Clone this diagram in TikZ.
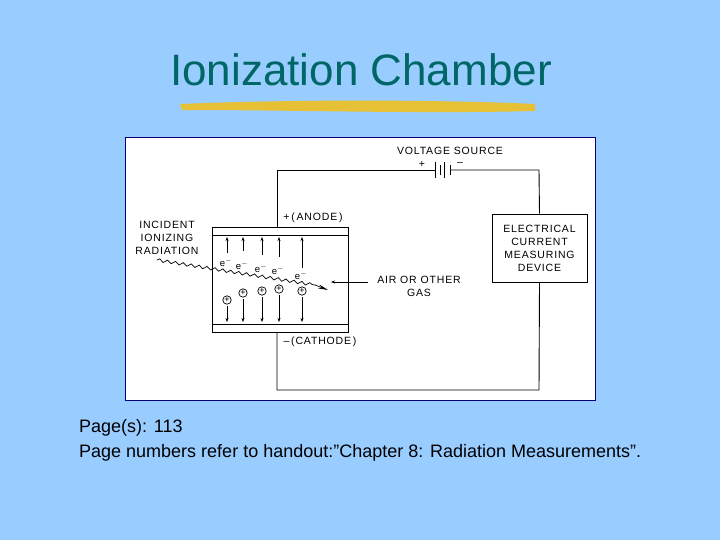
\documentclass[tikz,border=0pt]{standalone}
\usepackage{fontspec}
\setmainfont{Liberation Sans}
\usetikzlibrary{decorations.pathmorphing,arrows.meta}
\definecolor{bg}{HTML}{99CCFF}
\definecolor{teal}{HTML}{006666}
\definecolor{brush}{HTML}{F0C020}
\begin{document}
\begin{tikzpicture}[x=1pt,y=-1pt,
  lbl/.style={font=\fontsize{10.5}{13}\selectfont\addfontfeature{LetterSpace=8},align=center,inner sep=0},
  wire/.style={line width=0.9pt},
  earr/.style={-{Stealth[length=4pt,width=3pt]},line width=0.7pt}]
\fill[bg] (0,0) rectangle (720,540);
\useasboundingbox (0,0) rectangle (720,540);
\node[font=\fontsize{44}{48}\selectfont,text=teal] (title) at (361,70) {Ionization Chamber};
\fill[brush,opacity=0.9] (180,104) .. controls (300,99) and (450,100) .. (535,104) -- (535,111) .. controls (420,114) and (300,110) .. (182,110) -- cycle;
\draw[fill=white,draw=blue!50!black,line width=1pt] (125,138) rectangle (595,400);
% circuit
\coordinate (tl) at (277,170); \coordinate (tr) at (539,170);
\coordinate (bl) at (277,390); \coordinate (br) at (539,390);
\node[draw,wire,minimum width=95,minimum height=68,lbl] (meter) at (539.5,248) {ELECTRICAL\\CURRENT\\MEASURING\\DEVICE};
\draw[wire] (277,227) -- (tl) -- (435,170);
\draw[wire] (450,170) -- (tr) -- (meter.north);
\draw[wire] (meter.south) -- (br) -- (bl) -- (277,332);
\draw[wire] (435,162)--(435,178) (440,165)--(440,175) (444,162)--(444,178) (450,165)--(450,175);
\node[lbl] (vs) at (450,151) {VOLTAGE SOURCE};
\node[lbl] (vp) at (422,164) {+}; \node[lbl] (vm) at (460,164) {--};
% chamber
\draw[wire] (212,227) rectangle (348,235);
\draw[wire] (212,324) rectangle (348,332);
\draw[wire] (212,235)--(212,324) (348,235)--(348,324);
\node[lbl] (an) at (313,218) {+\,(\,ANODE\,)};
\node[lbl] (ca) at (320,342) {--\,(CATHODE\,)};
\node[lbl] (inc) at (167,238) {INCIDENT\\IONIZING\\RADIATION};
\node[lbl] (air) at (419,286) {AIR OR OTHER\\GAS};
\coordinate (w0) at (157,260); \coordinate (w1) at (315,285); \coordinate (tip) at (328,290);
\draw[line width=0.7pt,decorate,decoration={snake,amplitude=1.5pt,segment length=8pt}] (w0) -- (w1);
\draw[-{Stealth[length=10pt,width=4pt]},line width=0.7pt] (w1) -- (tip);
\draw[earr] (368,282) -- (331,282);
\foreach \x/\b/\e/\c in {227/253/260/300,243/251/263/293,262/255/266/291,279/257/268/289,302/268/273/291}{
  \draw[earr] (\x,\b) -- (\x,237);
  \node[inner sep=0,font=\fontsize{9.5}{10}\selectfont] at (\x-1,\e+2) {e$^-$};
  \draw[line width=0.7pt] (\x,\c) circle (4.2pt);
  \node[inner sep=0,font=\fontsize{9}{9}\selectfont] at (\x,\c) {+};
  \draw[earr] (\x,\c+6) -- (\x,322);
}
\node[anchor=west,font=\fontsize{18}{25}\selectfont,align=left,inner sep=0] (txt) at (79,440) {Page(s): 113\\Page numbers refer to handout:”Chapter 8: Radiation Measurements”.};
\end{tikzpicture}
\end{document}
